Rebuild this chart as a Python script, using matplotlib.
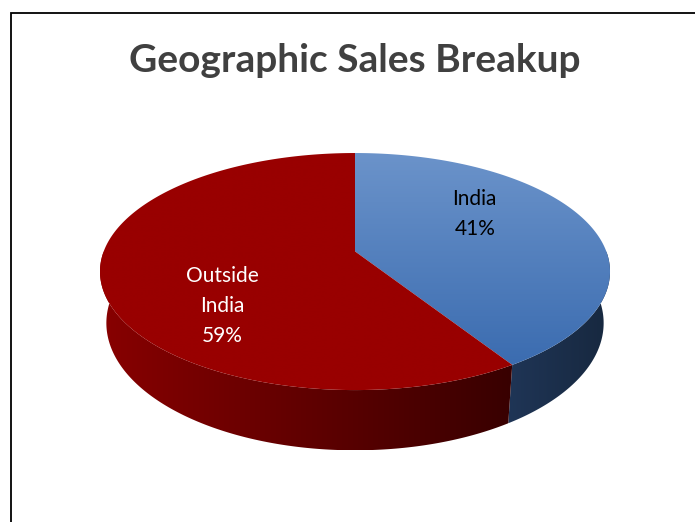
import numpy as np
import matplotlib
matplotlib.use("Agg")
import matplotlib.pyplot as plt
from matplotlib.patches import Polygon
from matplotlib.colors import to_rgb

# ---- data ----
categories = ["India", "Outside\nIndia"]
values = [41, 59]
title = "Geographic Sales Breakup"

# ---- style / layout ----
W, H = 695, 522
cx, cy0, rx, ry = 355, 251.4, 251.3, 115.1
persp = 0.17          # perspective strength (front larger than back)
d0 = 50               # wall depth (before perspective)
bottom_shrink = 0.975
top_colors = [("#6b93ca", "#3b6cb0"), ("#990000", "#990000")]   # vertical gradient top->bottom
side_colors = [("#1f3556", "#17283f"), ("#880000", "#380000")]  # horizontal gradient left->right
label_colors = ["black", "white"]

plt.rcParams['font.family'] = ['Lato', 'DejaVu Sans']
fig = plt.figure(figsize=(W / 100, H / 100), dpi=100)
ax = fig.add_axes([0, 0, 1, 1])
ax.set_xlim(0, W)
ax.set_ylim(H, 0)
ax.axis("off")


def pt(t_deg, bottom=False, r=1.0):
    t = np.radians(t_deg)
    X, Z = r * np.sin(t), r * np.cos(t)
    k = 1.0 / (1.0 + persp * Z)
    sx = rx * (bottom_shrink if bottom else 1.0)
    x = cx + sx * X * k
    y = cy0 - ry * Z * k + (d0 * k if bottom else 0.0)
    return x, y


def grad_fill(poly_xy, c0, c1, horizontal, z):
    poly = Polygon(poly_xy, closed=True, facecolor="none", edgecolor="none")
    ax.add_patch(poly)
    x0, y0 = poly_xy.min(axis=0)
    x1, y1 = poly_xy.max(axis=0)
    n = 256
    a = np.array(to_rgb(c0))
    b = np.array(to_rgb(c1))
    s = np.linspace(0, 1, n)[:, None]
    g = a + (b - a) * s
    img = g[None, :, :] if horizontal else g[:, None, :]
    im = ax.imshow(img, extent=(x0, x1, y1, y0), origin="upper",
                   aspect="auto", zorder=z, interpolation="bilinear")
    im.set_clip_path(poly)


total = float(sum(values))
start = 0.0
bounds = []
for v in values:
    end = start + 360.0 * v / total
    bounds.append((start, end))
    start = end

# side walls (front half)
for i, (a, b) in enumerate(bounds):
    lo, hi = max(a, 90.0), min(b, 270.0)
    if hi <= lo:
        continue
    ts = np.linspace(lo, hi, 200)
    topedge = np.array([pt(t) for t in ts])
    botedge = np.array([pt(t, bottom=True) for t in ts[::-1]])
    grad_fill(np.vstack([topedge, botedge]), *side_colors[i], horizontal=True, z=1)

# top faces
for i, (a, b) in enumerate(bounds):
    ts = np.linspace(a, b, 300)
    arc = np.array([pt(t) for t in ts])
    poly = np.vstack([[cx, cy0], arc])
    grad_fill(poly, *top_colors[i], horizontal=False, z=2)

# labels
for i, (a, b) in enumerate(bounds):
    mid = np.radians(0.5 * (a + b))
    lx = cx - 6.5 + 131.5 * np.sin(mid)
    ly = 260 - 165 * np.cos(mid)
    pct = f"{round(100 * values[i] / total):d}%"
    ax.text(lx, ly, f"{categories[i]}\n{pct}", ha="center", va="center",
            fontsize=15, color=label_colors[i], linespacing=1.65, zorder=5)

ax.text(cx, 60, title, ha="center", va="center", fontsize=28,
        fontweight="bold", color="#404040", zorder=5)

# frame (left and top edges visible)
ax.plot([10.5, 10.5, W + 5], [H + 5, 12.5, 12.5], color="black", lw=1.3,
        zorder=6, solid_capstyle="butt", solid_joinstyle="miter")

fig.savefig("out.png", dpi=100)
